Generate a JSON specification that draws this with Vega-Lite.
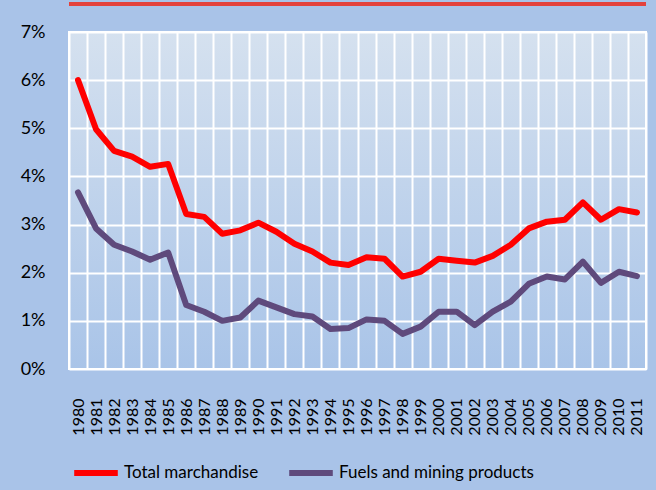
{
  "$schema": "https://vega.github.io/schema/vega-lite/v6.json",
  "autosize": {"type": "none"},
  "width": 577,
  "height": 337,
  "padding": {"left": 69, "top": 32, "right": 10, "bottom": 121},
  "background": "#a9c3e8",
  "config": {
    "view": {
      "fill": {"expr": "{gradient: 'linear', x1: 0, y1: 0, x2: 0, y2: 1, stops: [{offset: 0, color: '#d5e1ef'}, {offset: 1, color: '#a9c4e8'}]}"},
      "stroke": "#ffffff",
      "strokeWidth": 2
    },
    "font": "Lato"
  },
  "datasets": {
    "trade": [
      {"year": "1980", "series": "Total marchandise", "value": 0.0600},
      {"year": "1981", "series": "Total marchandise", "value": 0.0498},
      {"year": "1982", "series": "Total marchandise", "value": 0.0453},
      {"year": "1983", "series": "Total marchandise", "value": 0.0441},
      {"year": "1984", "series": "Total marchandise", "value": 0.0420},
      {"year": "1985", "series": "Total marchandise", "value": 0.0426},
      {"year": "1986", "series": "Total marchandise", "value": 0.0322},
      {"year": "1987", "series": "Total marchandise", "value": 0.0316},
      {"year": "1988", "series": "Total marchandise", "value": 0.0281},
      {"year": "1989", "series": "Total marchandise", "value": 0.0288},
      {"year": "1990", "series": "Total marchandise", "value": 0.0304},
      {"year": "1991", "series": "Total marchandise", "value": 0.0285},
      {"year": "1992", "series": "Total marchandise", "value": 0.0260},
      {"year": "1993", "series": "Total marchandise", "value": 0.0244},
      {"year": "1994", "series": "Total marchandise", "value": 0.0221},
      {"year": "1995", "series": "Total marchandise", "value": 0.0216},
      {"year": "1996", "series": "Total marchandise", "value": 0.0232},
      {"year": "1997", "series": "Total marchandise", "value": 0.0229},
      {"year": "1998", "series": "Total marchandise", "value": 0.0192},
      {"year": "1999", "series": "Total marchandise", "value": 0.0202},
      {"year": "2000", "series": "Total marchandise", "value": 0.0229},
      {"year": "2001", "series": "Total marchandise", "value": 0.0225},
      {"year": "2002", "series": "Total marchandise", "value": 0.0221},
      {"year": "2003", "series": "Total marchandise", "value": 0.0235},
      {"year": "2004", "series": "Total marchandise", "value": 0.0258},
      {"year": "2005", "series": "Total marchandise", "value": 0.0292},
      {"year": "2006", "series": "Total marchandise", "value": 0.0306},
      {"year": "2007", "series": "Total marchandise", "value": 0.0310},
      {"year": "2008", "series": "Total marchandise", "value": 0.0346},
      {"year": "2009", "series": "Total marchandise", "value": 0.0310},
      {"year": "2010", "series": "Total marchandise", "value": 0.0332},
      {"year": "2011", "series": "Total marchandise", "value": 0.0325},
      {"year": "1980", "series": "Fuels and mining products", "value": 0.0367},
      {"year": "1981", "series": "Fuels and mining products", "value": 0.0292},
      {"year": "1982", "series": "Fuels and mining products", "value": 0.0258},
      {"year": "1983", "series": "Fuels and mining products", "value": 0.0244},
      {"year": "1984", "series": "Fuels and mining products", "value": 0.0227},
      {"year": "1985", "series": "Fuels and mining products", "value": 0.0242},
      {"year": "1986", "series": "Fuels and mining products", "value": 0.0133},
      {"year": "1987", "series": "Fuels and mining products", "value": 0.0119},
      {"year": "1988", "series": "Fuels and mining products", "value": 0.0100},
      {"year": "1989", "series": "Fuels and mining products", "value": 0.0107},
      {"year": "1990", "series": "Fuels and mining products", "value": 0.0142},
      {"year": "1991", "series": "Fuels and mining products", "value": 0.0128},
      {"year": "1992", "series": "Fuels and mining products", "value": 0.0114},
      {"year": "1993", "series": "Fuels and mining products", "value": 0.0109},
      {"year": "1994", "series": "Fuels and mining products", "value": 0.0083},
      {"year": "1995", "series": "Fuels and mining products", "value": 0.0085},
      {"year": "1996", "series": "Fuels and mining products", "value": 0.0103},
      {"year": "1997", "series": "Fuels and mining products", "value": 0.0100},
      {"year": "1998", "series": "Fuels and mining products", "value": 0.0073},
      {"year": "1999", "series": "Fuels and mining products", "value": 0.0088},
      {"year": "2000", "series": "Fuels and mining products", "value": 0.0119},
      {"year": "2001", "series": "Fuels and mining products", "value": 0.0119},
      {"year": "2002", "series": "Fuels and mining products", "value": 0.0091},
      {"year": "2003", "series": "Fuels and mining products", "value": 0.0119},
      {"year": "2004", "series": "Fuels and mining products", "value": 0.0140},
      {"year": "2005", "series": "Fuels and mining products", "value": 0.0177},
      {"year": "2006", "series": "Fuels and mining products", "value": 0.0192},
      {"year": "2007", "series": "Fuels and mining products", "value": 0.0186},
      {"year": "2008", "series": "Fuels and mining products", "value": 0.0223},
      {"year": "2009", "series": "Fuels and mining products", "value": 0.0179},
      {"year": "2010", "series": "Fuels and mining products", "value": 0.0202},
      {"year": "2011", "series": "Fuels and mining products", "value": 0.0193}
    ]
  },
  "data": {"name": "trade"},
  "layer": [
    {
      "mark": {"type": "rule", "color": "#e4423c", "strokeWidth": 3, "clip": false},
      "encoding": {
        "y": {"datum": 0.0758, "type": "quantitative"}
      }
    },
    {
      "mark": {"type": "line", "strokeWidth": 6, "strokeCap": "round", "strokeJoin": "round"},
      "encoding": {
        "x": {
          "field": "year",
          "type": "ordinal",
          "bandPosition": 0.5,
          "scale": {"type": "band", "paddingInner": 0, "paddingOuter": 0},
          "axis": {
            "title": null,
            "domain": false,
            "ticks": false,
            "tickBand": "extent",
            "grid": true,
            "gridColor": "#ffffff",
            "gridWidth": 2,
            "gridOpacity": 1,
            "labelAngle": 270,
            "labelFontSize": 16,
            "labelColor": "#000000",
            "labelPadding": 29,
            "labelFont": "Lato"
          }
        },
        "y": {
          "field": "value",
          "type": "quantitative",
          "scale": {"domain": [0, 0.07], "nice": false},
          "axis": {
            "title": null,
            "format": ".0%",
            "values": [0, 0.01, 0.02, 0.03, 0.04, 0.05, 0.06, 0.07],
            "domain": false,
            "ticks": false,
            "grid": true,
            "gridColor": "#ffffff",
            "gridWidth": 2,
            "gridOpacity": 1,
            "labelFontSize": 18,
            "labelColor": "#000000",
            "labelPadding": 24,
            "labelFont": "Lato"
          }
        },
        "color": {
          "field": "series",
          "type": "nominal",
          "scale": {
            "domain": ["Total marchandise", "Fuels and mining products"],
            "range": ["#ff0000", "#5f4a7c"]
          },
          "legend": {
            "title": null,
            "orient": "none",
            "legendX": 2,
            "legendY": 416,
            "direction": "horizontal",
            "columns": 2,
            "columnPadding": 18,
            "symbolType": "stroke",
            "symbolSize": 1900,
            "symbolStrokeWidth": 6,
            "labelFontSize": 17,
            "labelLimit": 400,
            "labelColor": "#000000",
            "labelOffset": 3,
            "labelFont": "Lato"
          }
        }
      }
    }
  ]
}
